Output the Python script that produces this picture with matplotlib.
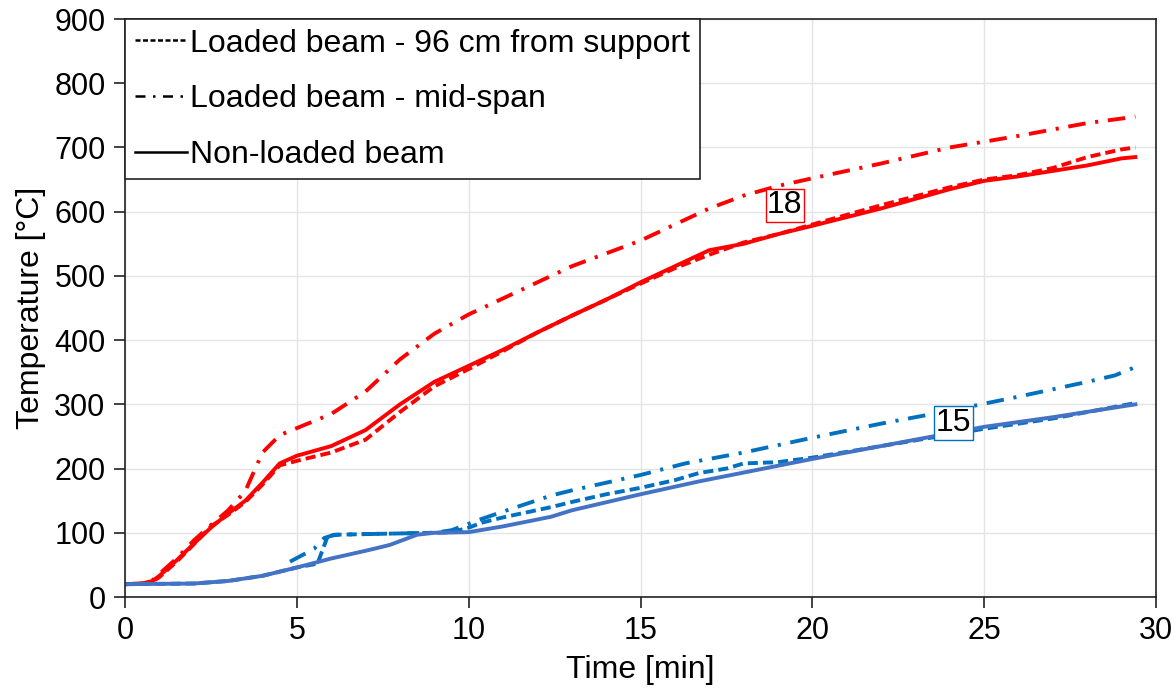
import matplotlib
matplotlib.use("Agg")
import matplotlib.pyplot as plt
from matplotlib.lines import Line2D

plt.rcParams['font.family'] = ['Liberation Sans', 'DejaVu Sans']

# section 18 (red)
t_r_solid = [0, 0.5, 0.8, 1, 1.5, 2, 2.5, 3, 3.5, 4, 4.5, 5, 6, 7, 8, 9, 10, 11, 12, 13, 14, 15, 16, 17,
             18, 19, 20, 22, 24, 25, 26, 28, 29, 29.4]
T_r_solid = [20, 21, 25, 33, 57, 83, 108, 130, 150, 178, 208, 220, 235, 260, 300, 335, 360, 385, 412, 438,
             463, 490, 515, 540, 550, 565, 578, 605, 635, 648, 655, 672, 683, 685]
t_r_dash = [0, 0.5, 0.8, 1, 1.5, 2, 2.5, 3, 3.5, 4, 4.5, 5, 6, 7, 8, 9, 10, 11, 12, 13, 14, 15, 16, 17,
            18, 19, 20, 22, 24, 25, 26, 27, 28, 29, 29.4]
T_r_dash = [20, 21, 24, 31, 55, 82, 110, 128, 148, 175, 205, 212, 225, 245, 288, 328, 355, 383, 412, 438,
            463, 488, 512, 533, 552, 565, 580, 610, 638, 650, 657, 668, 685, 697, 700]
t_r_dd = [0, 0.5, 0.8, 1, 1.5, 2, 2.5, 3, 3.5, 4, 4.5, 5, 6, 7, 8, 9, 10, 11, 12, 13, 14, 15, 16, 17, 18,
          19, 20, 22, 24, 26, 28, 29, 29.4]
T_r_dd = [20, 21, 26, 36, 60, 88, 112, 135, 165, 225, 252, 263, 285, 320, 370, 410, 440, 465, 490, 515,
          535, 555, 580, 605, 625, 640, 652, 675, 700, 718, 738, 745, 748]

# section 15 (blue)
t_b_solid = [0, 2, 3, 4, 5, 6, 7, 7.7, 8.5, 9, 10, 11, 12.4, 13, 15, 16.7, 20, 22, 25, 27, 29.4]
T_b_solid = [20, 21, 25, 33, 46, 60, 72, 81, 97, 100, 101, 110, 125, 135, 160, 180, 215, 235, 265, 280, 300]
t_b_dash = [0, 2, 3, 4, 5, 5.6, 5.9, 6.2, 7, 8, 9, 9.5, 10, 10.4, 11, 12.4, 13, 14, 15, 16, 16.7, 17.5,
            18, 19, 20, 22, 25, 27, 29.4]
T_b_dash = [20, 21, 25, 33, 46, 52, 95, 97, 98, 99, 100, 101, 108, 116, 124, 140, 148, 160, 170, 182,
            193, 200, 208, 210, 217, 235, 262, 278, 302]
t_b_dd = [4.8, 5.5, 5.8, 6.1, 7, 8, 9, 9.5, 10, 10.4, 11, 12.4, 13, 14, 15, 16.3, 17, 18, 20, 22, 24, 26,
          28, 28.8, 29.4]
T_b_dd = [55, 75, 92, 97, 98, 99, 100, 104, 114, 122, 133, 158, 166, 178, 190, 208, 215, 225, 248, 270,
          290, 312, 335, 345, 358]

red = '#FF0000'
blue_l = '#0070C0'
blue_s = '#4472C4'

fig = plt.figure(figsize=(11.76, 6.91), dpi=100)
ax = fig.add_axes([0.1063, 0.136, 0.8767, 0.8365])

lw = 2.8
dd = (4.5, 2.5, 0.8, 2.5)
ds = (2.6, 1.3)
ax.plot(t_r_dd, T_r_dd, color=red, lw=lw, dashes=dd)
ax.plot(t_r_dash, T_r_dash, color=red, lw=lw, dashes=ds)
ax.plot(t_r_solid, T_r_solid, color=red, lw=lw)
ax.plot(t_b_dd, T_b_dd, color=blue_l, lw=lw, dashes=dd)
ax.plot(t_b_dash, T_b_dash, color=blue_l, lw=lw, dashes=ds)
ax.plot(t_b_solid, T_b_solid, color=blue_s, lw=lw)

ax.set_xlim(0, 30)
ax.set_ylim(0, 900)
ax.set_xticks(range(0, 31, 5))
ax.set_yticks(range(0, 901, 100))
ax.grid(color='#e4e4e4', lw=1)
ax.set_axisbelow(True)
for s in ax.spines.values():
    s.set_color('#222222')
    s.set_linewidth(1.2)
ax.tick_params(direction='out', length=8, width=1.2, labelsize=22, pad=6, color='#222222')

ax.set_xlabel('Time [min]', fontsize=23, labelpad=6)
ax.set_ylabel('Temperature [°C]', fontsize=23, labelpad=6)

ax.text(19.2, 610, '18', fontsize=23, ha='center', va='center',
        bbox=dict(boxstyle='square,pad=0.05', fc='white', ec=red, lw=1))
ax.text(24.1, 271, '15', fontsize=23, ha='center', va='center',
        bbox=dict(boxstyle='square,pad=0.05', fc='white', ec=blue_l, lw=1))

handles = [Line2D([], [], color='k', lw=1.8, dashes=(2, 1)),
           Line2D([], [], color='k', lw=1.8, dashes=(4, 3, 1, 3)),
           Line2D([], [], color='k', lw=1.8)]
labels = ['Loaded beam - 96 cm from support', 'Loaded beam - mid-span', 'Non-loaded beam']
leg = ax.legend(handles, labels, loc='upper left', bbox_to_anchor=(0, 1), fontsize=23,
                frameon=True, fancybox=False, edgecolor='#222222', framealpha=1,
                handlelength=1.65, handletextpad=0.1, borderaxespad=0, borderpad=0.3,
                labelspacing=0.8)
leg.get_frame().set_linewidth(1.2)

fig.savefig('out.png', dpi=100)
